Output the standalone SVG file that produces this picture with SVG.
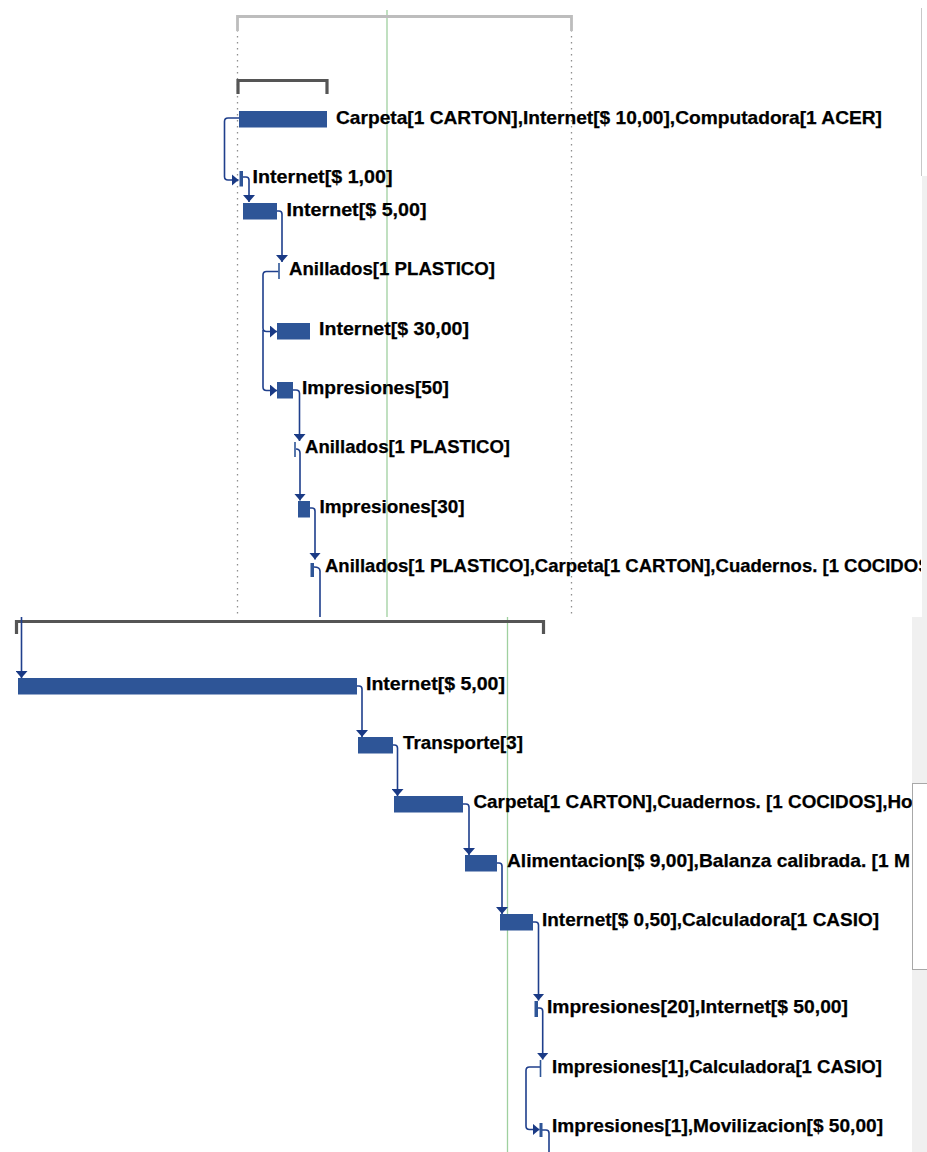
<svg xmlns="http://www.w3.org/2000/svg" width="927" height="1152" viewBox="0 0 927 1152">
<defs>
<style>
.lbl{font-family:"Liberation Sans",Arial,sans-serif;font-weight:bold;font-size:19px;fill:#000;stroke:#000;stroke-width:0.25}
.bar{fill:#2E5597}
.ms{fill:none;stroke:#2E5597;stroke-width:1.6}
.cn{fill:none;stroke:#1F3F8C;stroke-width:1.6}
.arr{marker-end:url(#ah)}
.green{stroke:#9fd09f;stroke-width:1.3}
.dot{stroke:#8f8f8f;stroke-width:1.3;stroke-dasharray:1.5 4.5}
</style>
<marker id="ah" viewBox="0 0 7 12" refX="7" refY="6" markerWidth="7" markerHeight="12" markerUnits="userSpaceOnUse" orient="auto">
<path d="M0,0 L7,6 L0,12 Z" fill="#1A3A85"/>
</marker>
<clipPath id="clipTop"><rect x="0" y="0" width="921" height="617"/></clipPath>
<clipPath id="clipBot"><rect x="0" y="617" width="912" height="535"/></clipPath>
</defs>
<rect x="0" y="0" width="927" height="1152" fill="#fff"/>

<g id="panels">
<line x1="921.5" y1="8" x2="921.5" y2="176" stroke="#c8c8c8" stroke-width="1"/>
<rect x="922" y="176" width="5" height="441" fill="#f0f0f0"/>
<rect x="912" y="617" width="15" height="535" fill="#f0f0f0"/>
<rect x="912.5" y="783.5" width="15" height="186" fill="#fff" stroke="#a8a8a8" stroke-width="1"/>
</g>

<g id="gridlines">
<line class="dot" x1="237.5" y1="18" x2="237.5" y2="617"/>
<line class="dot" x1="571.5" y1="18" x2="571.5" y2="617"/>
<line class="green" x1="387" y1="10" x2="387" y2="617"/>
<line class="green" x1="507.5" y1="617" x2="507.5" y2="1152"/>
</g>

<g id="summaries">
<path d="M237.5,31 V16.5 H571.5 V31" fill="none" stroke="#bdbdbd" stroke-width="2.8"/>
<path d="M238,94 V80.5 H327 V94" fill="none" stroke="#555" stroke-width="3.2"/>
<path d="M16.5,634 V621.5 H543.5 V634" fill="none" stroke="#555" stroke-width="3.2"/>
</g>

<g id="connectors">
<path class="cn arr" d="M239,118 H228 Q224.5,118 224.5,121.5 V176.5 Q224.5,180 228,180 H238.5"/>
<path class="cn arr" d="M243,177 H246 Q249,177 249,180 V202"/>
<path class="cn arr" d="M277,211 H279 Q282,211 282,214 V262"/>
<path class="cn arr" d="M278.5,271.5 H266.5 Q263,271.5 263,275 V328 Q263,331.5 266.5,331.5 H277"/>
<path class="cn arr" d="M263,330 V387 Q263,390.5 266.5,390.5 H277"/>
<path class="cn arr" d="M293,390 H296 Q299.5,390 299.5,393.5 V441"/>
<path class="cn arr" d="M296,449 Q300,449 300,453 V500.5"/>
<path class="cn arr" d="M310,508 H312 Q315,508 315,511 V559.5"/>
<path class="cn" d="M314,567 Q320,567 320,571 V617"/>
<path class="cn arr" d="M21.5,617 V678"/>
<path class="cn arr" d="M357,686 H359 Q362,686 362,689 V737"/>
<path class="cn arr" d="M393,745 H394.5 Q397.5,745 397.5,748 V796"/>
<path class="cn arr" d="M463,804 H466 Q469,804 469,807 V855"/>
<path class="cn arr" d="M497,863 H499 Q502,863 502,866 V914"/>
<path class="cn arr" d="M533,922 H535.5 Q538.5,922 538.5,925 V1000.5"/>
<path class="cn arr" d="M538,1008 H539.5 Q542.7,1008 542.7,1011 V1059.5"/>
<path class="cn arr" d="M540,1067 H529.5 Q526,1067 526,1070.5 V1126 Q526,1129.5 529.5,1129.5 H539.5"/>
<path class="cn" d="M542,1130 H546 Q549,1130 549,1133 V1152"/>
</g>

<g id="n1">
<rect class="bar" x="239" y="111" width="88" height="16.5"/>
<text class="lbl" x="336" y="124" textLength="546" lengthAdjust="spacingAndGlyphs">Carpeta[1 CARTON],Internet[$ 10,00],Computadora[1 ACER]</text>
</g>
<g id="n2">
<rect class="bar" x="239.5" y="171" width="3.5" height="15.5"/>
<text class="lbl" x="252.5" y="183" textLength="140" lengthAdjust="spacingAndGlyphs">Internet[$ 1,00]</text>
</g>
<g id="n3">
<rect class="bar" x="243" y="203" width="34" height="16.5"/>
<text class="lbl" x="286.5" y="216" textLength="140" lengthAdjust="spacingAndGlyphs">Internet[$ 5,00]</text>
</g>
<g id="n4">
<line class="ms" x1="279" y1="263" x2="279" y2="279"/>
<text class="lbl" x="289" y="275" textLength="206" lengthAdjust="spacingAndGlyphs">Anillados[1 PLASTICO]</text>
</g>
<g id="n5">
<rect class="bar" x="277" y="323" width="33" height="16.5"/>
<text class="lbl" x="319" y="335" textLength="150" lengthAdjust="spacingAndGlyphs">Internet[$ 30,00]</text>
</g>
<g id="n6">
<rect class="bar" x="277" y="382" width="16" height="16.5"/>
<text class="lbl" x="302" y="394" textLength="147" lengthAdjust="spacingAndGlyphs">Impresiones[50]</text>
</g>
<g id="n7">
<line class="ms" x1="295" y1="442" x2="295" y2="457"/>
<text class="lbl" x="305" y="453" textLength="205" lengthAdjust="spacingAndGlyphs">Anillados[1 PLASTICO]</text>
</g>
<g id="n8">
<rect class="bar" x="298" y="501" width="12" height="16.5"/>
<text class="lbl" x="319.5" y="513" textLength="145" lengthAdjust="spacingAndGlyphs">Impresiones[30]</text>
</g>
<g id="n9">
<rect class="bar" x="310.5" y="563" width="3.5" height="14"/>
<g clip-path="url(#clipTop)">
<text class="lbl" x="325" y="572" textLength="605.5" lengthAdjust="spacingAndGlyphs">Anillados[1 PLASTICO],Carpeta[1 CARTON],Cuadernos. [1 COCIDOS</text>
</g>
</g>

<g id="n10">
<rect class="bar" x="18" y="678" width="339" height="16.5"/>
<text class="lbl" x="366" y="690" textLength="139" lengthAdjust="spacingAndGlyphs">Internet[$ 5,00]</text>
</g>
<g id="n11">
<rect class="bar" x="358" y="737" width="35" height="16.5"/>
<text class="lbl" x="403" y="749" textLength="120" lengthAdjust="spacingAndGlyphs">Transporte[3]</text>
</g>
<g id="n12">
<rect class="bar" x="394" y="796" width="69" height="16.5"/>
<g clip-path="url(#clipBot)">
<text class="lbl" x="473.5" y="808" textLength="439" lengthAdjust="spacingAndGlyphs">Carpeta[1 CARTON],Cuadernos. [1 COCIDOS],Ho</text>
</g>
</g>
<g id="n13">
<rect class="bar" x="465" y="855" width="32" height="16.5"/>
<g clip-path="url(#clipBot)">
<text class="lbl" x="507" y="867" textLength="403" lengthAdjust="spacingAndGlyphs">Alimentacion[$ 9,00],Balanza calibrada. [1 M</text>
</g>
</g>
<g id="n14">
<rect class="bar" x="500" y="914" width="33" height="16.5"/>
<text class="lbl" x="542" y="926" textLength="337" lengthAdjust="spacingAndGlyphs">Internet[$ 0,50],Calculadora[1 CASIO]</text>
</g>
<g id="n15">
<rect class="bar" x="534.5" y="1001" width="3.5" height="16"/>
<text class="lbl" x="547" y="1013" textLength="301" lengthAdjust="spacingAndGlyphs">Impresiones[20],Internet[$ 50,00]</text>
</g>
<g id="n16">
<line class="ms" x1="540.5" y1="1060" x2="540.5" y2="1077"/>
<text class="lbl" x="552" y="1073" textLength="330" lengthAdjust="spacingAndGlyphs">Impresiones[1],Calculadora[1 CASIO]</text>
</g>
<g id="n17">
<rect class="bar" x="539.5" y="1123" width="3" height="14"/>
<text class="lbl" x="552" y="1132" textLength="331" lengthAdjust="spacingAndGlyphs">Impresiones[1],Movilizacion[$ 50,00]</text>
</g>
</svg>
